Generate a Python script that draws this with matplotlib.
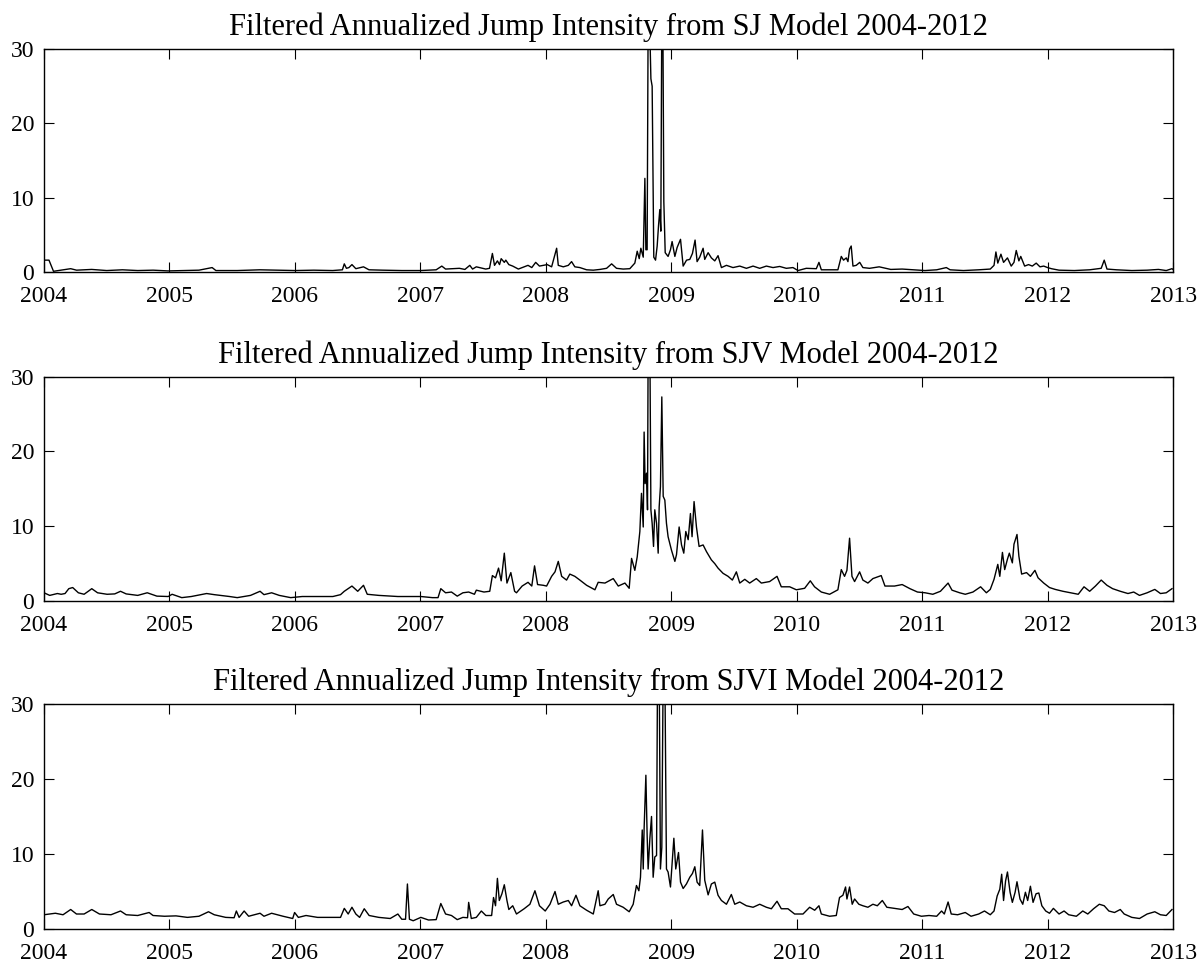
import matplotlib
matplotlib.use("Agg")
import matplotlib.pyplot as plt

plt.rcParams["font.family"] = ["Liberation Serif", "DejaVu Serif"]

# SJ model (decimal year, intensity)
sj_t = [2004.000, 2004.040, 2004.076, 2004.137, 2004.213, 2004.260, 2004.380, 2004.500, 2004.625, 2004.747,
        2004.870, 2004.990, 2005.110, 2005.235, 2005.340, 2005.370, 2005.540, 2005.720, 2005.845, 2006.000,
        2006.150, 2006.300, 2006.378, 2006.393, 2006.410, 2006.430, 2006.454, 2006.485, 2006.546, 2006.590,
        2006.700, 2006.850, 2007.000, 2007.125, 2007.170, 2007.200, 2007.310, 2007.354, 2007.393, 2007.415,
        2007.445, 2007.520, 2007.550, 2007.573, 2007.590, 2007.613, 2007.630, 2007.643, 2007.668, 2007.680,
        2007.704, 2007.735, 2007.780, 2007.826, 2007.857, 2007.887, 2007.918, 2007.948, 2007.980, 2008.010,
        2008.045, 2008.085, 2008.098, 2008.138, 2008.178, 2008.204, 2008.230, 2008.270, 2008.324, 2008.377,
        2008.430, 2008.483, 2008.523, 2008.562, 2008.615, 2008.668, 2008.708, 2008.727, 2008.743, 2008.756,
        2008.775, 2008.788, 2008.796, 2008.806, 2008.814, 2008.828, 2008.836, 2008.846, 2008.859, 2008.873,
        2008.886, 2008.897, 2008.907, 2008.915, 2008.923, 2008.931, 2008.939, 2008.950, 2008.973, 2008.992,
        2009.005, 2009.027, 2009.045, 2009.072, 2009.093, 2009.120, 2009.146, 2009.167, 2009.188, 2009.204,
        2009.225, 2009.252, 2009.265, 2009.292, 2009.318, 2009.345, 2009.371, 2009.398, 2009.438, 2009.490,
        2009.544, 2009.597, 2009.650, 2009.703, 2009.756, 2009.809, 2009.862, 2009.915, 2009.968, 2010.008,
        2010.074, 2010.154, 2010.175, 2010.194, 2010.260, 2010.326, 2010.353, 2010.371, 2010.393, 2010.406,
        2010.419, 2010.432, 2010.446, 2010.472, 2010.500, 2010.525, 2010.578, 2010.655, 2010.747, 2010.838,
        2010.930, 2011.020, 2011.113, 2011.190, 2011.220, 2011.326, 2011.448, 2011.540, 2011.570, 2011.585,
        2011.600, 2011.625, 2011.646, 2011.677, 2011.707, 2011.729, 2011.747, 2011.768, 2011.783, 2011.814,
        2011.845, 2011.875, 2011.906, 2011.936, 2011.966, 2011.997, 2012.027, 2012.088, 2012.210, 2012.332,
        2012.424, 2012.448, 2012.470, 2012.546, 2012.668, 2012.790, 2012.880, 2012.942, 2012.988, 2013.000]
sj_v = [1.6, 1.6, 0.1, 0.25, 0.45, 0.25, 0.35, 0.2, 0.3, 0.2,
        0.25, 0.15, 0.2, 0.25, 0.6, 0.2, 0.2, 0.3, 0.25, 0.2,
        0.25, 0.2, 0.3, 1.1, 0.5, 0.6, 1.0, 0.45, 0.7, 0.3,
        0.25, 0.2, 0.2, 0.3, 0.8, 0.4, 0.5, 0.35, 0.9, 0.4,
        0.7, 0.4, 0.5, 2.5, 0.9, 1.5, 1.0, 1.8, 1.3, 1.6,
        1.0, 0.8, 0.4, 0.7, 0.9, 0.6, 1.3, 0.8, 0.9, 1.0,
        0.7, 3.2, 0.9, 0.7, 0.9, 1.4, 0.7, 0.6, 0.3, 0.25,
        0.35, 0.5, 1.1, 0.5, 0.4, 0.45, 1.2, 2.8, 1.8, 3.2,
        2.0, 12.6, 3.0, 3.0, 34.0, 32.0, 26.0, 25.0, 2.0, 1.6,
        3.5, 6.3, 8.4, 5.5, 35.0, 35.0, 9.5, 2.6, 2.1, 3.0,
        4.1, 2.1, 3.3, 4.4, 0.8, 1.6, 1.7, 2.5, 4.3, 1.4,
        2.0, 3.2, 1.7, 2.6, 1.9, 1.5, 2.2, 0.6, 0.9, 0.6,
        0.8, 0.5, 0.8, 0.5, 0.8, 0.6, 0.75, 0.5, 0.6, 0.2,
        0.5, 0.45, 1.3, 0.3, 0.3, 0.3, 2.1, 1.6, 1.9, 1.4,
        3.1, 3.5, 0.8, 0.9, 1.3, 0.6, 0.5, 0.7, 0.35, 0.4,
        0.3, 0.2, 0.3, 0.6, 0.3, 0.2, 0.3, 0.4, 0.9, 2.7,
        1.2, 2.4, 1.3, 1.9, 0.8, 1.3, 2.9, 1.5, 2.1, 0.8,
        1.0, 0.8, 1.2, 0.7, 0.8, 0.6, 0.45, 0.25, 0.2, 0.3,
        0.5, 1.6, 0.4, 0.3, 0.2, 0.25, 0.35, 0.2, 0.45, 0.3]

# SJV model
sjv_t = [2004.000, 2004.046, 2004.107, 2004.137, 2004.168, 2004.198, 2004.229, 2004.274, 2004.320, 2004.381,
         2004.427, 2004.503, 2004.564, 2004.610, 2004.655, 2004.747, 2004.823, 2004.900, 2004.990, 2005.021,
         2005.098, 2005.174, 2005.296, 2005.357, 2005.479, 2005.540, 2005.646, 2005.722, 2005.753, 2005.814,
         2005.875, 2005.966, 2006.058, 2006.180, 2006.302, 2006.363, 2006.393, 2006.454, 2006.500, 2006.546,
         2006.576, 2006.668, 2006.820, 2006.912, 2007.003, 2007.095, 2007.140, 2007.162, 2007.200, 2007.247,
         2007.293, 2007.338, 2007.384, 2007.430, 2007.445, 2007.506, 2007.552, 2007.573, 2007.598, 2007.622,
         2007.643, 2007.668, 2007.689, 2007.720, 2007.750, 2007.765, 2007.810, 2007.857, 2007.887, 2007.909,
         2007.933, 2007.979, 2008.005, 2008.045, 2008.072, 2008.098, 2008.125, 2008.164, 2008.190, 2008.230,
         2008.270, 2008.324, 2008.390, 2008.416, 2008.470, 2008.536, 2008.576, 2008.629, 2008.663, 2008.682,
         2008.708, 2008.727, 2008.748, 2008.761, 2008.775, 2008.782, 2008.790, 2008.801, 2008.809, 2008.814,
         2008.828, 2008.836, 2008.846, 2008.857, 2008.867, 2008.881, 2008.894, 2008.902, 2008.912, 2008.923,
         2008.934, 2008.947, 2008.960, 2008.973, 2009.000, 2009.027, 2009.040, 2009.061, 2009.080, 2009.098,
         2009.114, 2009.133, 2009.151, 2009.164, 2009.180, 2009.199, 2009.220, 2009.252, 2009.279, 2009.318,
         2009.345, 2009.371, 2009.411, 2009.451, 2009.485, 2009.517, 2009.544, 2009.584, 2009.623, 2009.676,
         2009.716, 2009.782, 2009.841, 2009.875, 2009.942, 2009.995, 2010.061, 2010.106, 2010.140, 2010.194,
         2010.260, 2010.326, 2010.353, 2010.379, 2010.398, 2010.419, 2010.438, 2010.459, 2010.499, 2010.525,
         2010.565, 2010.605, 2010.671, 2010.701, 2010.777, 2010.838, 2010.900, 2010.960, 2011.021, 2011.082,
         2011.143, 2011.204, 2011.235, 2011.296, 2011.341, 2011.402, 2011.463, 2011.509, 2011.540, 2011.570,
         2011.600, 2011.616, 2011.637, 2011.655, 2011.677, 2011.692, 2011.716, 2011.729, 2011.753, 2011.768,
         2011.790, 2011.829, 2011.860, 2011.896, 2011.921, 2011.966, 2012.012, 2012.058, 2012.119, 2012.180,
         2012.241, 2012.287, 2012.332, 2012.378, 2012.424, 2012.470, 2012.515, 2012.576, 2012.637, 2012.683,
         2012.729, 2012.790, 2012.851, 2012.896, 2012.942, 2012.988]
sjv_v = [1.1, 0.75, 1.0, 0.9, 1.0, 1.65, 1.8, 1.1, 0.9, 1.65,
         1.1, 0.9, 0.95, 1.3, 0.95, 0.75, 1.1, 0.65, 0.6, 0.9,
         0.45, 0.6, 1.0, 0.85, 0.6, 0.45, 0.75, 1.3, 0.85, 1.1,
         0.75, 0.45, 0.6, 0.6, 0.6, 0.85, 1.3, 2.0, 1.3, 2.1,
         0.9, 0.75, 0.6, 0.6, 0.6, 0.45, 0.45, 1.65, 1.1, 1.2,
         0.65, 1.1, 1.2, 0.9, 1.45, 1.2, 1.3, 3.4, 3.1, 4.4,
         2.7, 6.4, 2.4, 3.8, 1.3, 1.1, 2.0, 2.5, 2.0, 4.7,
         2.2, 2.1, 2.0, 3.3, 3.9, 5.3, 3.3, 2.8, 3.6, 3.3,
         2.8, 2.1, 1.5, 2.5, 2.4, 3.0, 2.0, 2.4, 1.7, 5.7,
         4.1, 5.9, 9.3, 14.4, 9.9, 22.6, 15.7, 17.1, 12.2, 34.0,
         34.0, 12.2, 10.4, 7.3, 12.2, 10.4, 6.4, 12.6, 15.3, 27.3,
         14.0, 13.5, 10.4, 8.6, 6.8, 5.3, 6.2, 9.9, 7.5, 6.4,
         9.3, 8.2, 11.7, 8.6, 13.3, 9.9, 7.3, 7.5, 6.6, 5.5,
         5.0, 4.4, 3.7, 3.3, 2.8, 3.9, 2.4, 2.9, 2.4, 3.0,
         2.4, 2.6, 3.3, 1.9, 1.9, 1.5, 1.7, 2.7, 1.9, 1.2,
         0.9, 1.5, 4.2, 3.3, 4.1, 8.4, 3.3, 2.6, 3.9, 2.8,
         2.4, 3.0, 3.4, 2.0, 2.0, 2.2, 1.65, 1.2, 1.1, 0.9,
         1.3, 2.4, 1.45, 1.1, 0.9, 1.2, 1.9, 1.1, 1.55, 2.9,
         4.9, 3.3, 6.5, 4.2, 5.6, 6.4, 5.1, 7.6, 8.9, 6.0,
         3.6, 3.8, 3.3, 4.1, 3.1, 2.4, 1.8, 1.55, 1.3, 1.1,
         0.9, 1.9, 1.3, 2.0, 2.8, 2.1, 1.65, 1.3, 1.0, 1.2,
         0.75, 1.1, 1.55, 1.0, 1.1, 1.65]

# SJVI model
sjvi_t = [2004.000, 2004.091, 2004.152, 2004.213, 2004.259, 2004.320, 2004.381, 2004.442, 2004.534, 2004.610,
          2004.655, 2004.747, 2004.838, 2004.869, 2004.960, 2005.052, 2005.143, 2005.235, 2005.311, 2005.357,
          2005.448, 2005.515, 2005.533, 2005.555, 2005.595, 2005.631, 2005.722, 2005.753, 2005.814, 2005.905,
          2005.982, 2005.997, 2006.027, 2006.088, 2006.180, 2006.271, 2006.363, 2006.393, 2006.424, 2006.454,
          2006.485, 2006.515, 2006.552, 2006.591, 2006.668, 2006.759, 2006.820, 2006.851, 2006.881, 2006.896,
          2006.912, 2006.942, 2007.003, 2007.064, 2007.125, 2007.162, 2007.200, 2007.247, 2007.293, 2007.338,
          2007.375, 2007.384, 2007.405, 2007.445, 2007.485, 2007.521, 2007.567, 2007.582, 2007.598, 2007.613,
          2007.628, 2007.649, 2007.668, 2007.689, 2007.704, 2007.735, 2007.765, 2007.826, 2007.872, 2007.912,
          2007.948, 2007.994, 2008.032, 2008.072, 2008.098, 2008.138, 2008.178, 2008.204, 2008.239, 2008.270,
          2008.324, 2008.377, 2008.416, 2008.430, 2008.470, 2008.496, 2008.536, 2008.562, 2008.615, 2008.663,
          2008.695, 2008.721, 2008.740, 2008.753, 2008.767, 2008.775, 2008.782, 2008.796, 2008.806, 2008.814,
          2008.828, 2008.841, 2008.854, 2008.867, 2008.881, 2008.889, 2008.902, 2008.912, 2008.923, 2008.934,
          2008.947, 2008.960, 2008.973, 2008.992, 2009.019, 2009.034, 2009.056, 2009.072, 2009.093, 2009.119,
          2009.146, 2009.167, 2009.186, 2009.204, 2009.225, 2009.247, 2009.265, 2009.292, 2009.318, 2009.345,
          2009.371, 2009.398, 2009.438, 2009.477, 2009.504, 2009.544, 2009.597, 2009.650, 2009.703, 2009.756,
          2009.796, 2009.841, 2009.875, 2009.928, 2009.981, 2010.048, 2010.101, 2010.141, 2010.175, 2010.194,
          2010.260, 2010.313, 2010.339, 2010.366, 2010.387, 2010.398, 2010.419, 2010.440, 2010.459, 2010.493,
          2010.525, 2010.565, 2010.605, 2010.640, 2010.680, 2010.716, 2010.777, 2010.838, 2010.884, 2010.930,
          2010.991, 2011.052, 2011.113, 2011.152, 2011.174, 2011.204, 2011.229, 2011.280, 2011.341, 2011.387,
          2011.448, 2011.494, 2011.540, 2011.570, 2011.595, 2011.616, 2011.631, 2011.646, 2011.662, 2011.677,
          2011.698, 2011.716, 2011.738, 2011.753, 2011.777, 2011.799, 2011.820, 2011.838, 2011.860, 2011.881,
          2011.905, 2011.927, 2011.951, 2011.982, 2012.012, 2012.043, 2012.088, 2012.128, 2012.165, 2012.226,
          2012.277, 2012.317, 2012.363, 2012.409, 2012.448, 2012.485, 2012.530, 2012.576, 2012.607, 2012.668,
          2012.729, 2012.790, 2012.851, 2012.896, 2012.942, 2012.988]
sjvi_v = [1.9, 2.1, 1.9, 2.6, 2.0, 2.0, 2.6, 2.0, 1.9, 2.4,
          1.9, 1.8, 2.2, 1.8, 1.7, 1.75, 1.55, 1.7, 2.3, 1.9,
          1.55, 1.5, 2.4, 1.55, 2.4, 1.7, 2.1, 1.7, 2.1, 1.7,
          1.4, 2.2, 1.55, 1.8, 1.55, 1.55, 1.55, 2.75, 2.0, 2.9,
          2.0, 1.55, 2.7, 1.8, 1.55, 1.4, 2.0, 1.3, 1.3, 6.0,
          1.3, 1.1, 1.55, 1.2, 1.25, 3.4, 2.0, 1.8, 1.25, 1.55,
          1.5, 3.55, 1.4, 1.55, 2.4, 1.8, 1.8, 4.2, 3.1, 6.75,
          3.8, 4.7, 5.9, 3.8, 2.6, 3.1, 2.0, 2.7, 3.3, 5.1,
          3.1, 2.4, 3.3, 5.0, 3.3, 3.6, 3.8, 3.1, 4.5, 3.1,
          2.5, 2.0, 5.1, 3.1, 3.3, 4.0, 4.6, 3.3, 2.9, 2.3,
          3.3, 5.8, 5.1, 6.9, 13.2, 8.0, 13.4, 20.5, 12.5, 8.0,
          12.1, 15.0, 6.9, 9.6, 9.8, 35.0, 35.0, 8.0, 10.9, 35.0,
          35.0, 8.0, 7.6, 5.6, 12.1, 8.0, 10.2, 6.25, 5.4, 6.0,
          6.9, 7.4, 8.3, 6.25, 5.8, 13.2, 6.5, 4.55, 6.0, 6.25,
          4.5, 3.8, 3.3, 4.6, 3.3, 3.6, 3.1, 2.9, 3.3, 2.9,
          2.7, 3.7, 2.7, 2.7, 2.0, 2.0, 2.9, 2.5, 3.1, 2.0,
          1.7, 1.8, 4.2, 4.5, 5.6, 4.0, 5.6, 3.3, 4.0, 3.3,
          3.1, 2.9, 3.3, 3.1, 3.8, 2.9, 2.75, 2.6, 3.0, 2.0,
          1.7, 1.8, 1.7, 2.4, 2.0, 3.6, 2.0, 1.9, 2.2, 1.7,
          2.0, 2.4, 1.9, 2.4, 4.4, 5.3, 7.3, 3.8, 6.4, 7.6,
          4.9, 3.55, 4.9, 6.3, 4.0, 3.3, 4.9, 3.8, 5.7, 3.55,
          4.7, 4.8, 3.1, 2.4, 2.1, 2.75, 2.0, 2.4, 1.9, 1.7,
          2.4, 2.0, 2.7, 3.3, 3.1, 2.4, 2.2, 2.6, 2.0, 1.55,
          1.4, 2.0, 2.3, 1.9, 1.8, 2.6]

titles = ["Filtered Annualized Jump Intensity from SJ Model 2004-2012",
          "Filtered Annualized Jump Intensity from SJV Model 2004-2012",
          "Filtered Annualized Jump Intensity from SJVI Model 2004-2012"]
years = list(range(2004, 2014))
yticks = [0, 10, 20, 30]

fig = plt.figure(figsize=(12.01, 9.65), dpi=100)
boxes = [[0.0366, 0.7181, 0.9405, 0.2311],
         [0.0366, 0.3772, 0.9405, 0.2324],
         [0.0366, 0.0373, 0.9405, 0.2332]]
series = [(sj_t, sj_v), (sjv_t, sjv_v), (sjvi_t, sjvi_v)]

for box, (t, v), title in zip(boxes, series, titles):
    ax = fig.add_axes(box)
    ax.plot(t, v, color="black", lw=1.0)
    ax.set_xlim(2004, 2013)
    ax.set_ylim(0, 30)
    ax.set_xticks(years)
    ax.set_xticklabels([str(y) for y in years])
    ax.set_yticks(yticks)
    ax.tick_params(direction="in", length=7, width=0.8, top=True, right=True,
                   labelsize=17)
    ax.tick_params(axis="x", pad=10)
    ax.tick_params(axis="y", pad=7)
    for s in ax.spines.values():
        s.set_linewidth(1.0)
    ax.set_title(title, fontsize=22, pad=10)

fig.savefig("out.png", dpi=100)
